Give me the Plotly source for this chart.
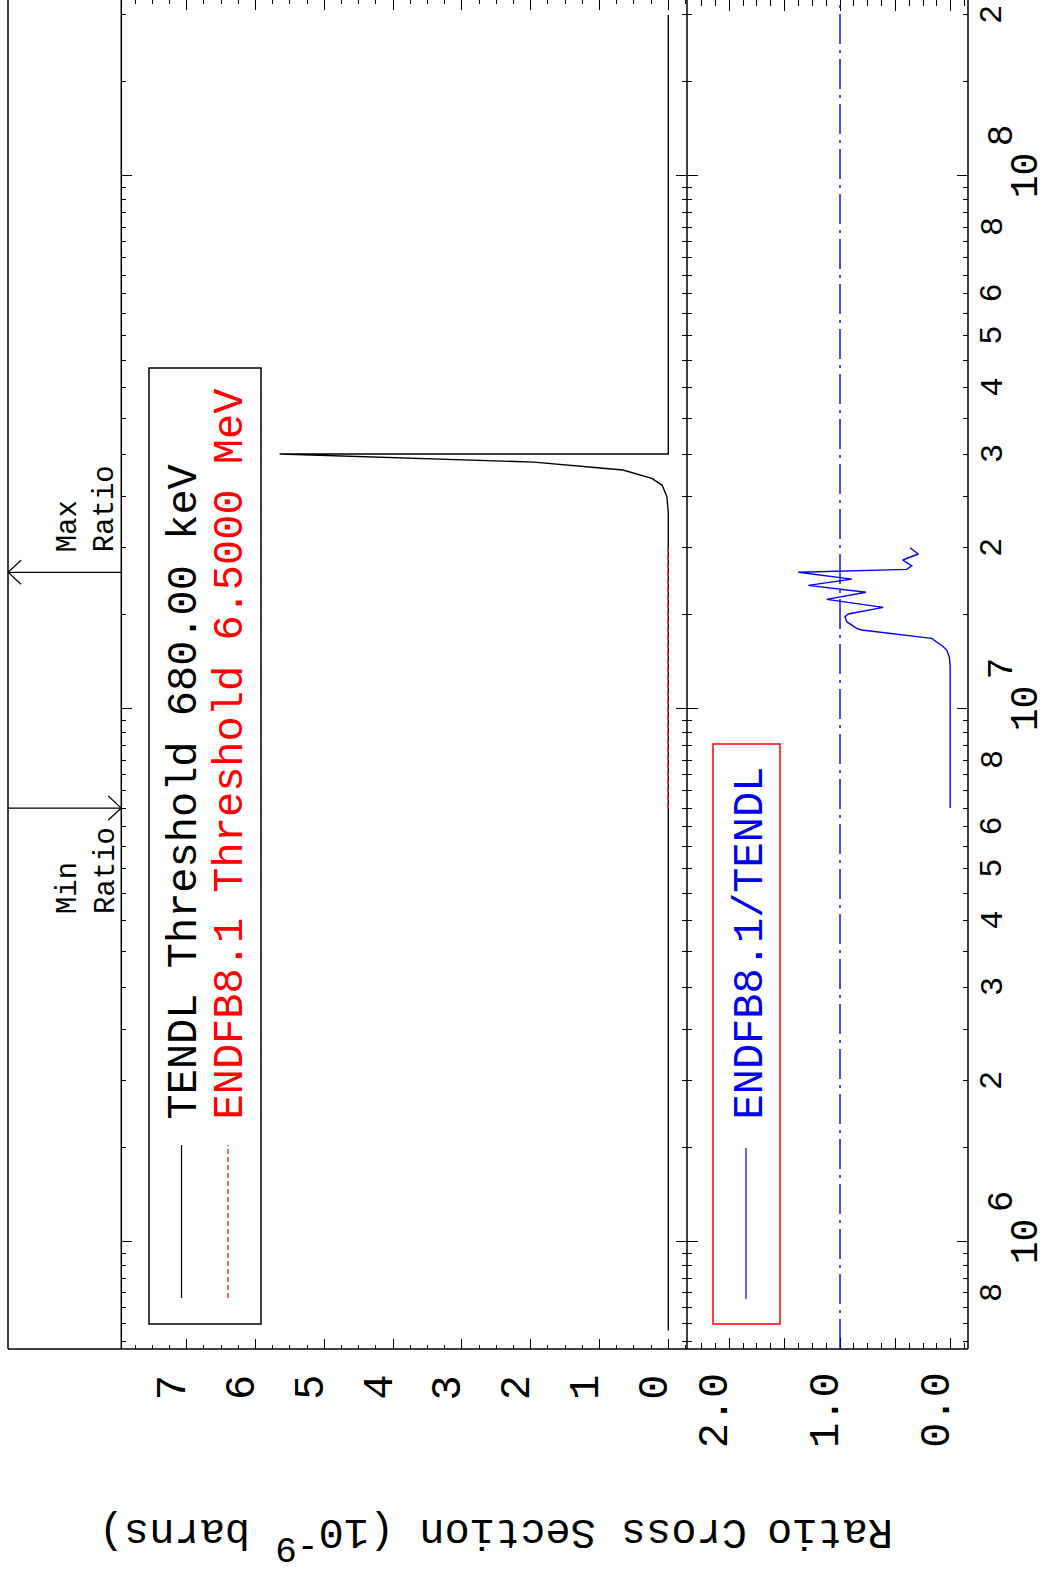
import math
import plotly.graph_objects as go

# ---------------- data ----------------
TENDL_E = [6.8e5, 1.0e6, 5.0e6, 1.0e7, 2.0e7, 2.325e7, 2.494e7, 2.624e7, 2.70e7,
           2.80e7, 2.824e7, 2.897e7, 3.0e7, 3.0e7, 2.0e8]
TENDL_XS = [0.0, 0.0, 0.0, 0.0, 0.0, 0.0, 0.02, 0.09, 0.24,
            0.66, 0.99, 1.95, 5.65, 0.0, 0.0]

ENDF_E = [6.5e6, 1.0e7, 2.0e7]
ENDF_XS = [0.0, 0.0, 0.0]

RATIO_E = [6.5e6, 1.2e7, 1.249e7, 1.286e7, 1.305e7, 1.353e7, 1.403e7, 1.413e7,
           1.433e7, 1.454e7, 1.486e7, 1.503e7, 1.547e7, 1.601e7, 1.651e7,
           1.701e7, 1.748e7, 1.800e7, 1.823e7, 1.851e7, 1.898e7, 1.948e7, 2.001e7]
RATIO = [0.005, 0.005, 0.013, 0.036, 0.067, 0.172, 0.804, 0.849,
         0.894, 0.939, 0.955, 0.925, 0.609, 1.12, 0.765,
         1.286, 0.894, 1.377, 0.397, 0.352, 0.434, 0.293, 0.368]

MIN_RATIO_E = 6.5e6
MAX_RATIO_E = 1.80e7

XS_TICKS = [0, 1, 2, 3, 4, 5, 6, 7]
XS_LABELS = ["0", "1", "2", "3", "4", "5", "6", "7"]
RATIO_TICKS = [0.0, 0.5, 1.0, 1.5, 2.0]
RATIO_LABEL_VALS = [0.0, 1.0, 2.0]
RATIO_LABELS = ["0.0", "1.0", "2.0"]
E_DECADES = [1e6, 1e7, 1e8]
E_DECADE_EXP = ["6", "7", "8"]
E_DIGIT_VALS = [8e5, 2e6, 3e6, 4e6, 5e6, 6e6, 8e6, 2e7, 3e7, 4e7, 5e7, 6e7, 8e7, 2e8]
E_DIGIT_TEXT = ["8", "2", "3", "4", "5", "6", "8", "2", "3", "4", "5", "6", "8", "2"]
E_MINOR = [m * 10 ** d for d in (5, 6, 7, 8) for m in
           (1.5, 2, 2.5, 3, 3.5, 4, 4.5, 5, 5.5, 6, 6.5, 7, 7.5, 8, 8.5, 9, 9.5)]

# ---------------- layout helpers ----------------
W, H = 1046, 1582
def fx(p):
    return p / W
def fy(p):
    return 1 - p / H

X_BOX = 8
X_L, X_M, X_R = 121.3, 687.0, 968.0
Y_BOT, Y_TOP = 1349.0, 0.0
E_RANGE = [5.798, 8.329]
XS_RANGE = [7.95, -0.272]
RATIO_RANGE = [2.382, -0.156]

MONO = "Liberation Mono"
BLACK, RED, BLUE = "#000000", "#ff0000", "#0000ee"

fig = go.Figure()

fig.add_trace(go.Scatter(x=TENDL_XS, y=TENDL_E, mode="lines",
                         line=dict(color=BLACK, width=1.4),
                         xaxis="x", yaxis="y", showlegend=False))
fig.add_trace(go.Scatter(x=ENDF_XS, y=ENDF_E, mode="lines",
                         line=dict(color=RED, width=1.4, dash="5px,3px"),
                         xaxis="x", yaxis="y", showlegend=False))
fig.add_trace(go.Scatter(x=RATIO, y=RATIO_E, mode="lines",
                         line=dict(color=BLUE, width=1.4),
                         xaxis="x2", yaxis="y2", showlegend=False))

# Min / Max ratio arrows (in the strip to the left)
head_h = 13 / (X_L - X_BOX)
head_d = 12 / 533.0
for E, tip in ((MIN_RATIO_E, 1.0), (MAX_RATIO_E, 0.0)):
    back = tip - head_h if tip == 1.0 else tip + head_h
    fig.add_trace(go.Scatter(x=[0, 1], y=[E, E], mode="lines",
                             line=dict(color=BLACK, width=1.2),
                             xaxis="x3", yaxis="y3", showlegend=False))
    fig.add_trace(go.Scatter(x=[back, tip, back],
                             y=[E * 10 ** head_d, E, E * 10 ** -head_d], mode="lines",
                             line=dict(color=BLACK, width=1.2),
                             xaxis="x3", yaxis="y3", showlegend=False))

axis_common = dict(showline=False, ticks="inside",
                   tickcolor=BLACK, tickwidth=1.2, showgrid=False, zeroline=False,
                   showticklabels=False)

ydom = [fy(Y_BOT), fy(Y_TOP)]
fig.update_layout(
    width=W, height=H, margin=dict(l=0, r=0, t=0, b=0),
    paper_bgcolor="white", plot_bgcolor="white", showlegend=False,
    xaxis=dict(domain=[fx(X_L), fx(X_M)], range=XS_RANGE, anchor="y",
               tickmode="array", tickvals=XS_TICKS, ticklen=10, mirror="allticks",
               minor=dict(tickmode="linear", tick0=0, dtick=0.25, ticklen=4,
                          ticks="inside", tickcolor=BLACK, tickwidth=1.0),
               **axis_common),
    yaxis=dict(domain=ydom, type="log", range=E_RANGE, anchor="x",
               tickmode="array", tickvals=E_DECADES, ticklen=11, mirror="allticks",
               minor=dict(tickmode="array", tickvals=E_MINOR, ticklen=5,
                          ticks="inside", tickcolor=BLACK, tickwidth=1.0),
               **axis_common),
    xaxis2=dict(domain=[fx(X_M), fx(X_R)], range=RATIO_RANGE, anchor="y2",
                tickmode="array", tickvals=RATIO_TICKS, ticklen=11, mirror="allticks",
                minor=dict(tickmode="linear", tick0=0, dtick=0.125, ticklen=6,
                           ticks="inside", tickcolor=BLACK, tickwidth=1.0),
                **axis_common),
    yaxis2=dict(domain=ydom, type="log", range=E_RANGE, anchor="x2",
                tickmode="array", tickvals=E_DECADES, ticklen=11, mirror="allticks",
                minor=dict(tickmode="array", tickvals=E_MINOR, ticklen=5,
                           ticks="inside", tickcolor=BLACK, tickwidth=1.0),
                **axis_common),
    xaxis3=dict(domain=[fx(X_BOX), fx(X_L)], range=[0, 1], anchor="y3", visible=False),
    yaxis3=dict(domain=ydom, type="log", range=E_RANGE, anchor="x3", visible=False),
)

FRAME = dict(color=BLACK, width=1.5)
shapes = []
# frame: bottom line across strip + both panels, vertical edges
shapes.append(dict(type="line", xref="paper", yref="paper", x0=fx(X_BOX), x1=fx(X_R),
                   y0=fy(Y_BOT), y1=fy(Y_BOT), line=FRAME))
for xe in (X_BOX, X_L, X_M, X_R):
    shapes.append(dict(type="line", xref="paper", yref="paper", x0=fx(xe), x1=fx(xe),
                       y0=fy(Y_BOT), y1=1, line=FRAME))
# ratio = 1 reference line
shapes.append(dict(type="line", xref="x2", yref="y2 domain", x0=1, x1=1, y0=0, y1=1,
                   line=dict(color=BLUE, width=1.4, dash="30px,6px,3px,6px")))
# legend box 1
shapes.append(dict(type="rect", xref="paper", yref="paper", x0=fx(149), x1=fx(261),
                   y0=fy(1324), y1=fy(368), line=dict(color=BLACK, width=1.5)))
shapes.append(dict(type="line", xref="paper", yref="paper", x0=fx(181.5), x1=fx(181.5),
                   y0=fy(1298), y1=fy(1145), line=dict(color=BLACK, width=1.2)))
shapes.append(dict(type="line", xref="paper", yref="paper", x0=fx(228), x1=fx(228),
                   y0=fy(1298), y1=fy(1145), line=dict(color=RED, width=1.2, dash="5px,3px")))
# legend box 2
shapes.append(dict(type="rect", xref="paper", yref="paper", x0=fx(713), x1=fx(780),
                   y0=fy(1324), y1=fy(744), line=dict(color=RED, width=1.5)))
shapes.append(dict(type="line", xref="paper", yref="paper", x0=fx(746), x1=fx(746),
                   y0=fy(1299), y1=fy(1148), line=dict(color=BLUE, width=1.2)))
fig.update_layout(shapes=shapes)

ann = []
def A(**kw):
    d = dict(showarrow=False, xanchor="center", yanchor="middle",
             font=dict(family=MONO, size=42, color=BLACK))
    d.update(kw)
    ann.append(d)

# legend texts
A(text="TENDL Threshold 680.00 keV", xref="paper", yref="paper", x=fx(184), y=fy(1122),
  yanchor="bottom", textangle=-90)
A(text="ENDFB8.1 Threshold 6.5000 MeV", xref="paper", yref="paper", x=fx(230), y=fy(1122),
  yanchor="bottom", textangle=-90, font=dict(family=MONO, size=42, color=RED))
A(text="ENDFB8.1/TENDL", xref="paper", yref="paper", x=fx(750), y=fy(1122),
  yanchor="bottom", textangle=-90, font=dict(family=MONO, size=42, color=BLUE))

# Min / Max ratio labels
A(text="Min<br>Ratio", xref="paper", yref="y3", x=fx(87), y=math.log10(MIN_RATIO_E),
  yshift=-63, textangle=-90, align="left", font=dict(family=MONO, size=29, color=BLACK))
A(text="Max<br>Ratio", xref="paper", yref="y3", x=fx(87), y=math.log10(MAX_RATIO_E),
  yshift=63, textangle=-90, align="left", font=dict(family=MONO, size=29, color=BLACK))

# cross-section tick labels
for v, t in zip(XS_TICKS, XS_LABELS):
    A(text=t, xref="x", yref="paper", x=v, y=fy(1387.5), xshift=-13, textangle=-90)
for v, t in zip(RATIO_LABEL_VALS, RATIO_LABELS):
    A(text=t, xref="x2", yref="paper", x=v, y=fy(1410), xshift=-13, textangle=-90)

# energy tick labels
for v, t in zip(E_DIGIT_VALS, E_DIGIT_TEXT):
    A(text=t, xref="paper", yref="y2", x=fx(993), y=math.log10(v), textangle=-90,
      font=dict(family=MONO, size=32, color=BLACK))
for v, t in zip(E_DECADES, E_DECADE_EXP):
    A(text="10", xref="paper", yref="y2", x=fx(1026), y=math.log10(v), textangle=-90,
      font=dict(family=MONO, size=38, color=BLACK))
    A(text=t, xref="paper", yref="y2", x=fx(1002), y=math.log10(v), yshift=40,
      textangle=-90, font=dict(family=MONO, size=36, color=BLACK))

# axis titles (upside down)
A(text="Ratio", xref="paper", yref="paper", x=fx(830), y=fy(1531), textangle=180)
A(text="Cross Section (10<sup><span style='font-size:36px'>-9</span></sup> barns)",
  xref="paper", yref="paper", x=fx(423), y=fy(1538), textangle=180)

fig.update_layout(annotations=ann)
fig.write_html("out.html", config={"displayModeBar": False},
               post_script="document.body.style.margin='0px';")
